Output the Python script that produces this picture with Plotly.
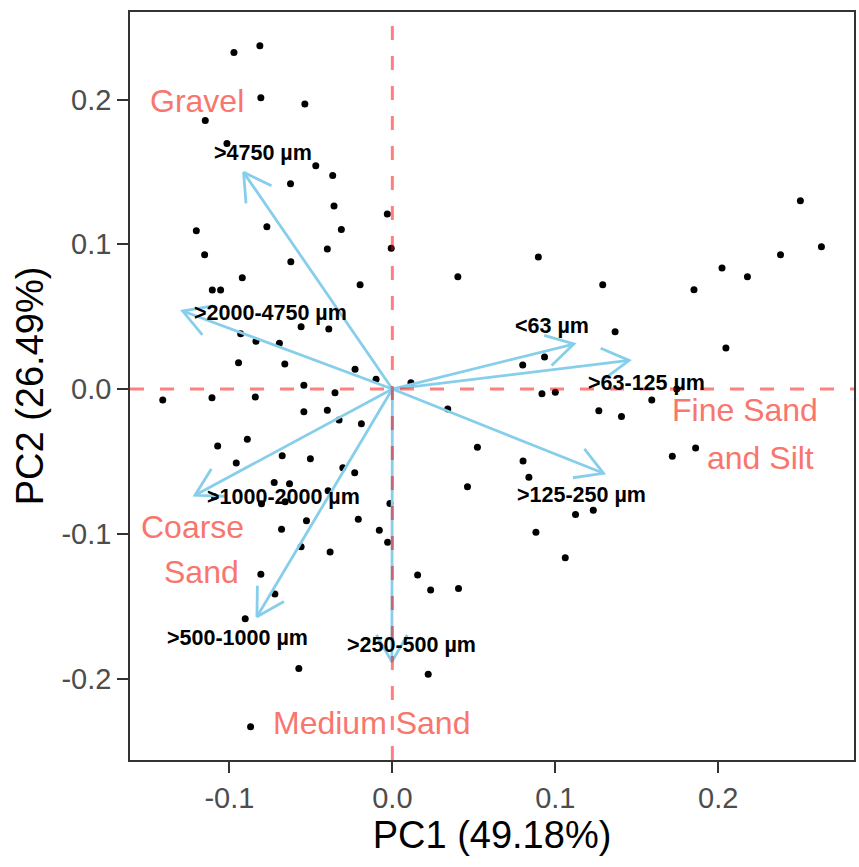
import math
import plotly.graph_objects as go

# ---- sample scores (PC1, PC2) ----
pc1 = [-0.0972, -0.0813, -0.0807, -0.0537, -0.1148, -0.1015, -0.0470, -0.0366, -0.0625, -0.0358,
       -0.0031, -0.1203, -0.0770, -0.0313, -0.0399, -0.0007, -0.1152, -0.0623, -0.0921, -0.0198,
       -0.1105, -0.1054, -0.0560, -0.0390, -0.0931, -0.0837, -0.0693, -0.0944, -0.0660, -0.0229,
       -0.0100, -0.0543, -0.0352, -0.1409, -0.1107, -0.0841, -0.0543, -0.0399, -0.0327, -0.0190,
       -0.1072, -0.0890, -0.0958, -0.0676, -0.0503, -0.0304, -0.0231, -0.0725, -0.0631, -0.1092,
       -0.0803, -0.0658, -0.0394, -0.0015, -0.0527, -0.0680, -0.0209, -0.0080, -0.0029, -0.0560,
       -0.0382, -0.0807, -0.0721, -0.0903, -0.0574, -0.0870,
       0.0896, 0.0402, 0.1291, 0.1367, 0.0934, 0.0800, 0.0114, 0.0918, 0.1000, 0.1592,
       0.1267, 0.1406, 0.0340, 0.0522, 0.0802, 0.0838, 0.0461, 0.1124, 0.1233, 0.0881,
       0.1061, 0.0155, 0.0235, 0.0406, 0.0220, 0.2504, 0.2633, 0.2382, 0.2023, 0.2179,
       0.1851, 0.2047, 0.1718, 0.1861, 0.1745]
pc2 = [0.2326, 0.2372, 0.2012, 0.1969, 0.1856, 0.1697, 0.1543, 0.1476, 0.1418, 0.1264,
       0.1209, 0.1094, 0.1121, 0.1103, 0.0967, 0.0972, 0.0928, 0.0879, 0.0769, 0.0721,
       0.0684, 0.0684, 0.0430, 0.0415, 0.0382, 0.0330, 0.0316, 0.0182, 0.0173, 0.0136,
       0.0067, 0.0026, -0.0026, -0.0076, -0.0060, -0.0055, -0.0157, -0.0147, -0.0214, -0.0240,
       -0.0394, -0.0347, -0.0511, -0.0461, -0.0482, -0.0544, -0.0578, -0.0645, -0.0654, -0.0744,
       -0.0792, -0.0779, -0.0703, -0.0790, -0.0910, -0.0969, -0.0900, -0.0976, -0.1059, -0.1089,
       -0.1126, -0.1280, -0.1416, -0.1587, -0.1930, -0.2333,
       0.0912, 0.0776, 0.0721, 0.0396, 0.0221, 0.0166, 0.0044, -0.0032, -0.0023, -0.0076,
       -0.0150, -0.0190, -0.0138, -0.0403, -0.0497, -0.0610, -0.0675, -0.0866, -0.0838, -0.0990,
       -0.1165, -0.1285, -0.1389, -0.1378, -0.1971, 0.1301, 0.0983, 0.0928, 0.0836, 0.0776,
       0.0686, 0.0283, -0.0465, -0.0408, 0.0000]

# ---- variable loadings (arrows) ----
var_names = [">4750 µm", ">2000-4750 µm", ">1000-2000 µm", ">500-1000 µm",
             ">250-500 µm", "<63 µm", ">63-125 µm", ">125-250 µm"]
load_x = [-0.0913, -0.1287, -0.1211, -0.0831, -0.0003, 0.1114, 0.1453, 0.1296]
load_y = [0.1497, 0.0539, -0.0734, -0.1573, -0.1884, 0.0311, 0.0198, -0.0582]
lab_x = [-0.0793, -0.0750, -0.0667, -0.0950, 0.0120, 0.0979, 0.1559, 0.1159]
lab_y = [0.1630, 0.0523, -0.0744, -0.1722, -0.1769, 0.0435, 0.0044, -0.0734]

# ---- group labels ----
grp_text = ["Gravel", "Coarse", "Sand", "Medium Sand", "Fine Sand", "and Silt"]
grp_x = [-0.1200, -0.1225, -0.1172, -0.0130, 0.2164, 0.2257]
grp_y = [0.1990, -0.0951, -0.1264, -0.2304, -0.0145, -0.0477]

x_ticks = [-0.1, 0.0, 0.1, 0.2]
y_ticks = [-0.2, -0.1, 0.0, 0.1, 0.2]

FONT = "Liberation Sans, Arial, sans-serif"
W, H = 859, 867
M = dict(l=130, r=3, t=12, b=107)
XR = [-0.161, 0.2833]
YR = [-0.2563, 0.2605]

# pixel scale of the axes (used to draw open ggplot-like arrowheads)
sx = (W - M["l"] - M["r"]) / (XR[1] - XR[0])
sy = (H - M["t"] - M["b"]) / (YR[1] - YR[0])
HEAD_LEN = 31.0
HEAD_ANG = math.radians(30)

shaft_x, shaft_y, head_x, head_y = [], [], [], []
for lx, ly in zip(load_x, load_y):
    shaft_x += [0, lx, None]
    shaft_y += [0, ly, None]
    dx, dy = lx * sx, ly * sy
    n = math.hypot(dx, dy)
    ux, uy = dx / n, dy / n
    pts = []
    for a in (HEAD_ANG, -HEAD_ANG):
        rx = ux * math.cos(a) - uy * math.sin(a)
        ry = ux * math.sin(a) + uy * math.cos(a)
        pts.append((lx - rx * HEAD_LEN / sx, ly - ry * HEAD_LEN / sy))
    head_x += [pts[0][0], lx, pts[1][0], None]
    head_y += [pts[0][1], ly, pts[1][1], None]

fig = go.Figure()
fig.add_trace(go.Scatter(x=pc1, y=pc2, mode="markers",
                         marker=dict(color="black", size=7, line=dict(width=0)),
                         showlegend=False, hoverinfo="skip"))
fig.add_trace(go.Scatter(x=shaft_x, y=shaft_y, mode="lines",
                         line=dict(color="#87CEEB", width=2.8),
                         showlegend=False, hoverinfo="skip"))
fig.add_trace(go.Scatter(x=head_x, y=head_y, mode="lines",
                         line=dict(color="#87CEEB", width=2.8),
                         showlegend=False, hoverinfo="skip"))

annotations = []
for t, tx, ty in zip(var_names, lab_x, lab_y):
    annotations.append(dict(x=tx, y=ty, xref="x", yref="y", text="<b>%s</b>" % t, showarrow=False,
                            font=dict(family=FONT, size=21.5, color="black")))
for t, tx, ty in zip(grp_text, grp_x, grp_y):
    annotations.append(dict(x=tx, y=ty, xref="x", yref="y", text=t, showarrow=False,
                            font=dict(family=FONT, size=32, color="#F8766D")))

fig.add_hline(y=0, line=dict(color="rgba(255,0,0,0.5)", width=3, dash="14px,16px"), layer="above")
fig.add_vline(x=0, line=dict(color="rgba(255,0,0,0.5)", width=3, dash="14px,16px"), layer="above")

axis_common = dict(showgrid=False, zeroline=False, showline=True, mirror=True,
                   linecolor="#333333", linewidth=1.5, ticks="outside", ticklen=11,
                   tickwidth=2, tickcolor="#333333",
                   tickfont=dict(family=FONT, size=29, color="#4D4D4D"))
fig.update_layout(
    width=W, height=H, plot_bgcolor="white", paper_bgcolor="white",
    margin=M,
    annotations=annotations,
    xaxis=dict(range=XR, tickvals=x_ticks, ticktext=["%.1f" % v for v in x_ticks],
               title=dict(text="PC1 (49.18%)", font=dict(family=FONT, size=38, color="black"), standoff=6),
               **axis_common),
    yaxis=dict(range=YR, tickvals=y_ticks, ticktext=["%.1f" % v for v in y_ticks],
               title=dict(text="PC2 (26.49%)", font=dict(family=FONT, size=38, color="black"), standoff=6),
               **axis_common),
)
fig.write_html("out.html")
